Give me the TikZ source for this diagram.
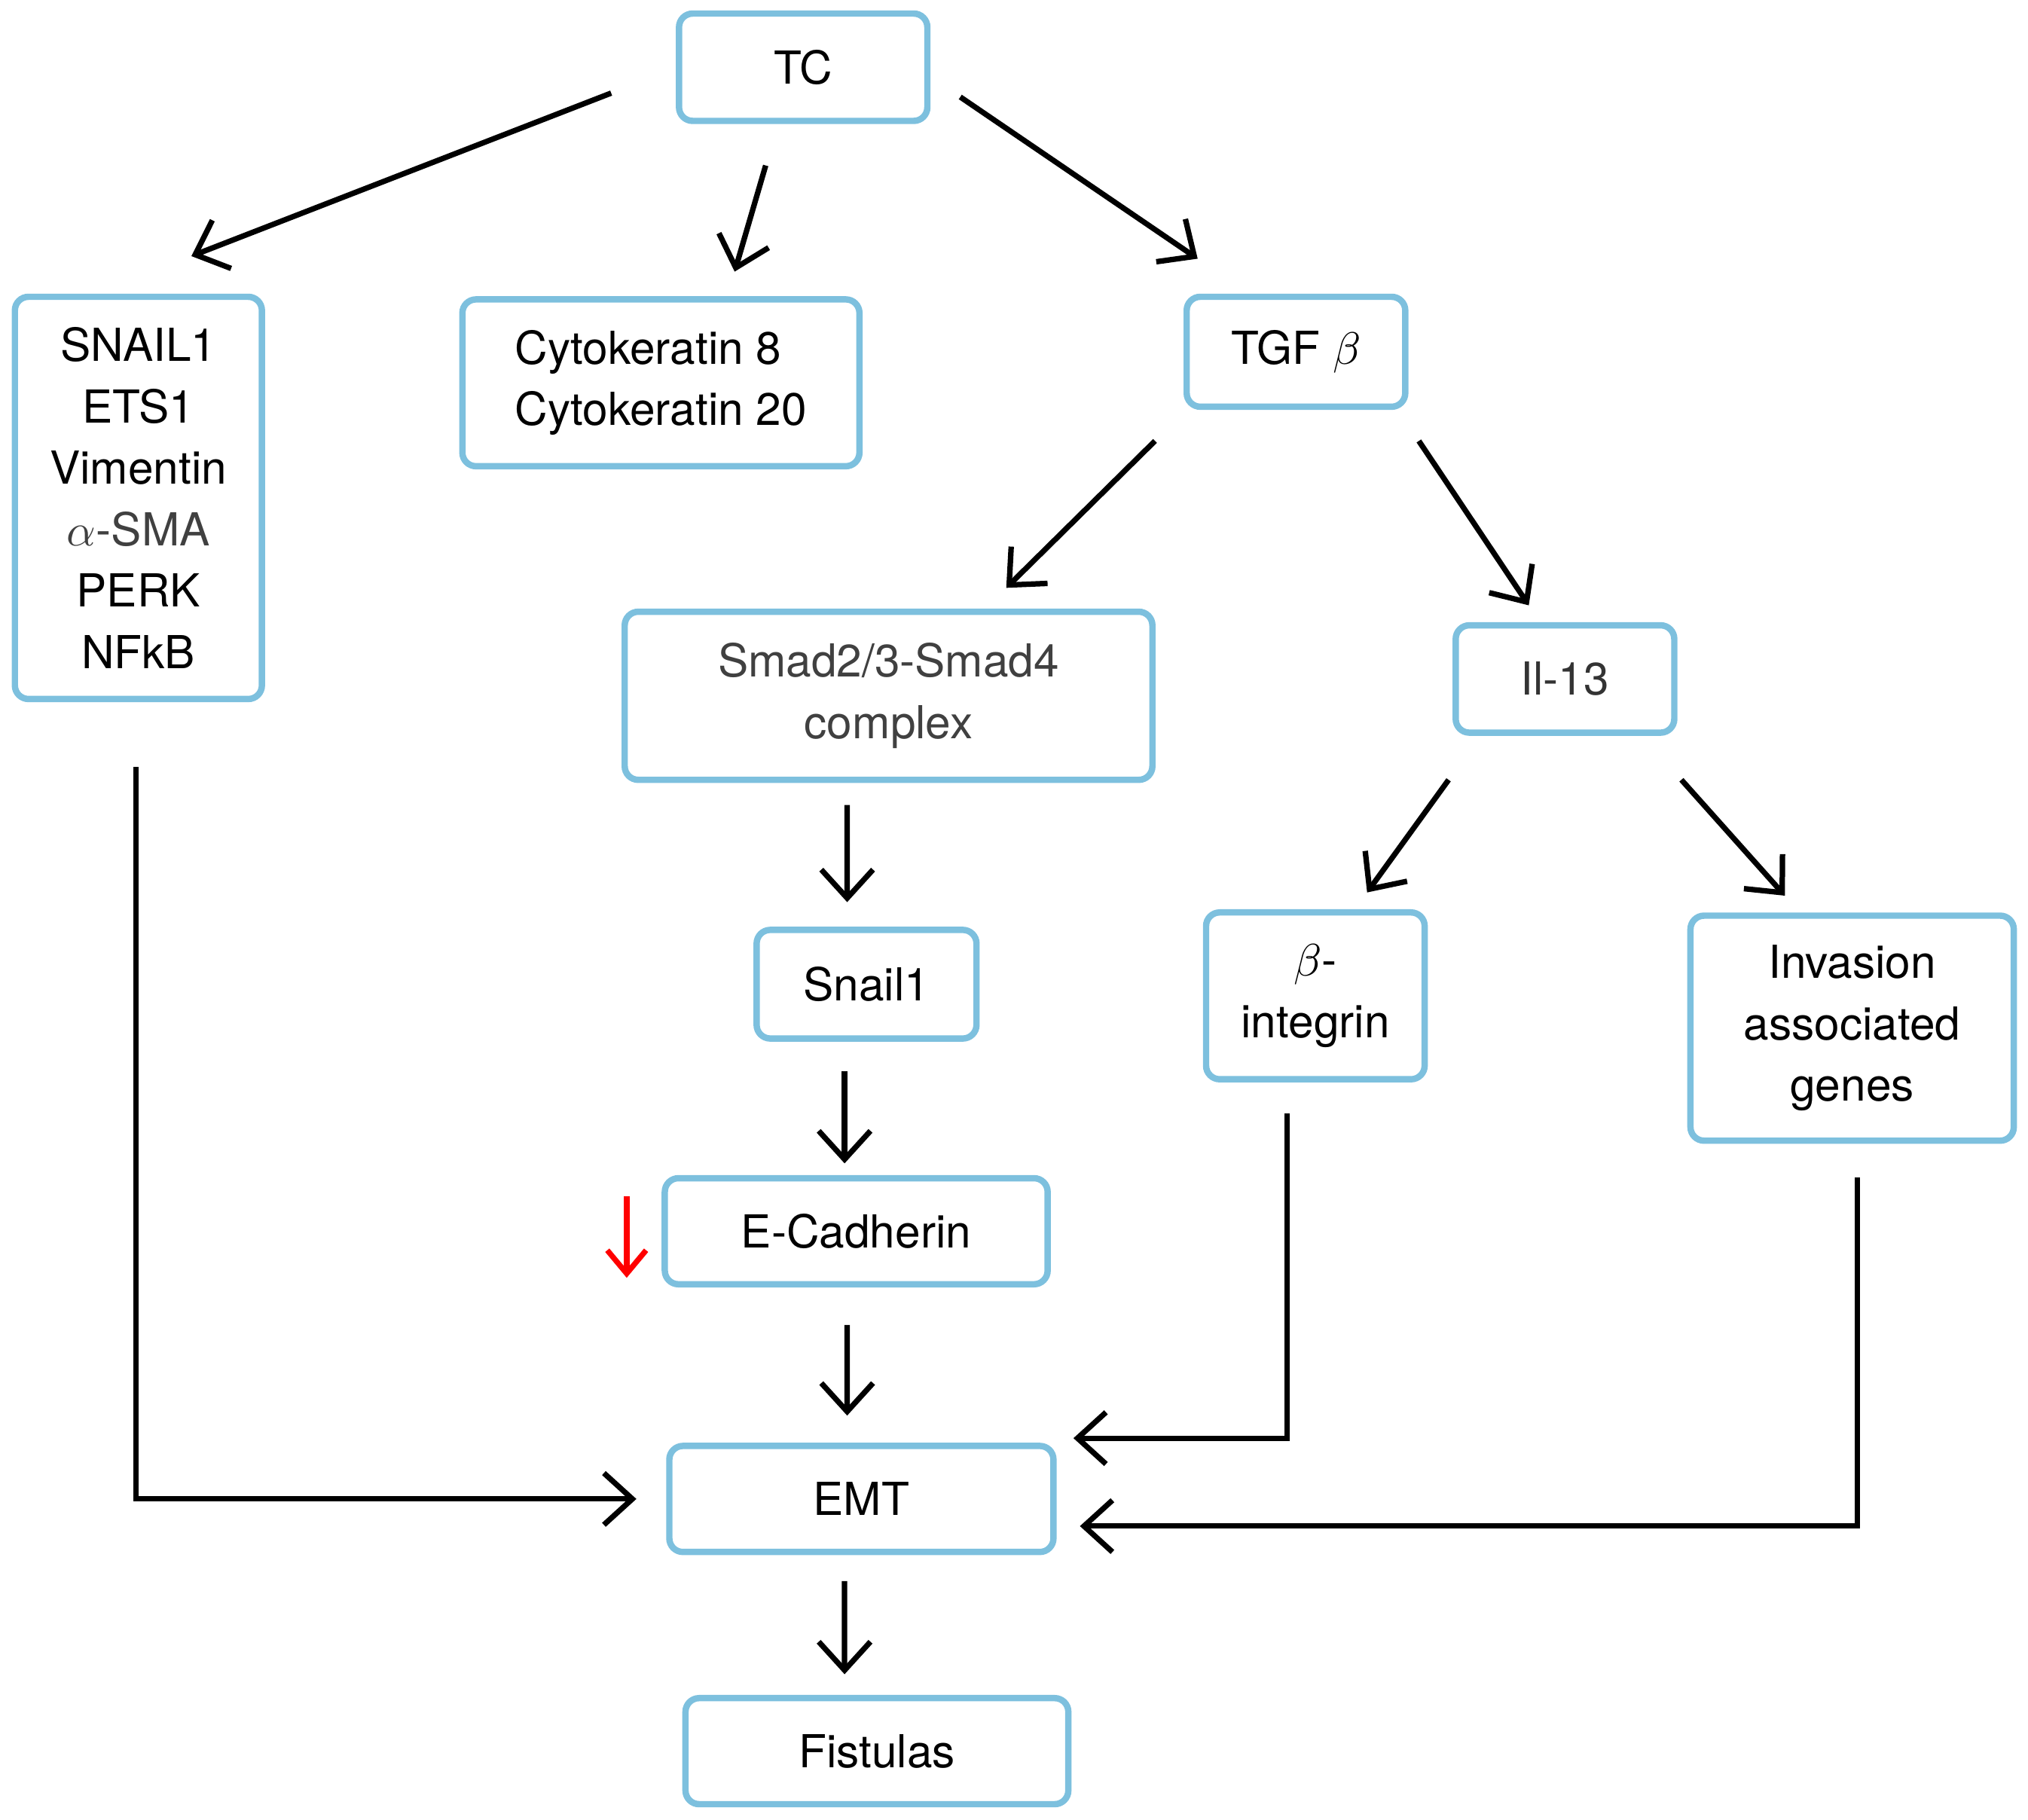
\documentclass[tikz,border=0pt]{standalone}
\usepackage{fontspec}
\setmainfont{TeX Gyre Heros}
\usetikzlibrary{arrows.meta}
\definecolor{boxblue}{RGB}{125,192,222}
\begin{document}
\begin{tikzpicture}[
  box/.style={draw=boxblue, line width=1.4pt, rounded corners=3pt, align=center, inner sep=0pt, font=\fontsize{10}{13.5}\selectfont},
  arr/.style={-{Straight Barb[length=2.2mm,width=4mm]}, line width=1.2pt},
]
\useasboundingbox (0,0) rectangle (15.68,-14.07);

% Top and first row
\node[box, minimum width=1.92cm, minimum height=0.83cm] (tc) at (6.21,-0.52) {TC};
\node[box, minimum width=1.91cm, minimum height=3.11cm] (markers) at (1.07,-3.85)
  {SNAIL1\\ETS1\\Vimentin\\{\color{black!75}$\alpha$-SMA}\\PERK\\NFkB};
\node[box, minimum width=3.07cm, minimum height=1.29cm, align=left] (cyto) at (5.11,-2.96)
  {Cytokeratin 8\\Cytokeratin 20};
\node[box, minimum width=1.69cm, minimum height=0.85cm] (tgf) at (10.02,-2.72) {TGF $\beta$};

% Middle rows
\node[box, minimum width=4.08cm, minimum height=1.30cm, text=black!75] (smad) at (6.87,-5.38)
  {Smad2/3-Smad4\\complex};
\node[box, minimum width=1.69cm, minimum height=0.83cm, text=black!80] (il) at (12.10,-5.25) {Il-13};
\node[box, minimum width=1.70cm, minimum height=0.84cm] (snail) at (6.70,-7.61) {Snail1};
\node[box, minimum width=1.69cm, minimum height=1.29cm] (integ) at (10.17,-7.70)
  {$\beta$-\\integrin};
\node[box, minimum width=2.50cm, minimum height=1.74cm] (inv) at (14.32,-7.95)
  {Invasion\\associated\\genes};
\node[box, minimum width=2.96cm, minimum height=0.82cm] (ecad) at (6.62,-9.52) {E-Cadherin};

% Bottom
\node[box, minimum width=2.97cm, minimum height=0.82cm] (emt) at (6.66,-11.59) {EMT};
\node[box, minimum width=2.96cm, minimum height=0.82cm] (fist) at (6.78,-13.54) {Fistulas};

% Arrows
\draw[arr] ([shift={(-0.5,-0.2)}]tc.west) -- ([shift={(0.41,0.29)}]markers.north);
\draw[arr] ([shift={(-0.29,-0.32)}]tc.south) -- ([shift={(0.57,0.19)}]cyto.north);
\draw[arr] ([shift={(0.23,-0.23)}]tc.east) -- ([shift={(-0.76,0.27)}]tgf.north);
\draw[arr] ([shift={(-1.09,-0.24)}]tgf.south) -- ([shift={(0.91,0.16)}]smad.north);
\draw[arr] ([shift={(0.95,-0.24)}]tgf.south) -- ([shift={(-0.28,0.13)}]il.north);
\draw[arr] ([shift={(-0.32,-0.17)}]smad.south) -- ([shift={(-0.15,0.19)}]snail.north);
\draw[arr] ([shift={(-0.9,-0.34)}]il.south) -- ([shift={(0.40,0.13)}]integ.north);
\draw[arr] ([shift={(0.9,-0.34)}]il.south) -- ([shift={(-0.52,0.13)}]inv.north);
\draw[arr] ([shift={(-0.17,-0.23)}]snail.south) -- ([shift={(-0.09,0.09)}]ecad.north);
\draw[arr] ([shift={(-0.07,-0.29)}]ecad.south) -- ([shift={(-0.11,0.21)}]emt.north);
\draw[arr] ([shift={(-0.13,-0.20)}]emt.south) -- ([shift={(-0.25,0.16)}]fist.north);
\draw[arr] ([shift={(-0.02,-0.5)}]markers.south) |- ([shift={(-0.23,0)}]emt.west);
\draw[arr] ([shift={(-0.22,-0.24)}]integ.south) |- ([shift={(0.13,0.47)}]emt.east);
\draw[arr] ([shift={(0.04,-0.26)}]inv.south) |- ([shift={(0.18,-0.21)}]emt.east);

% Decrease marker
\draw[-{Straight Barb[length=1.8mm,width=3mm]}, line width=1.2pt, red]
  ([shift={(-0.27,0.27)}]ecad.west) -- ([shift={(-0.27,-0.36)}]ecad.west);

\end{tikzpicture}
\end{document}
